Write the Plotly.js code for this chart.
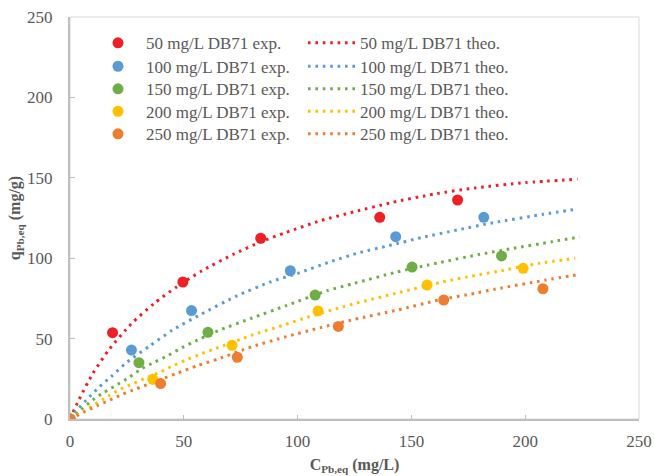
<!DOCTYPE html>
<html>
<head>
<meta charset="utf-8">
<script src="https://cdn.plot.ly/plotly-3.0.1.min.js"></script>
<style>html,body{margin:0;padding:0;background:#fff;}#chart{width:654px;height:476px;}</style>
</head>
<body>
<div id="chart"></div>
<script>
// ---------- data ----------
var seriesNames = ['50 mg/L DB71', '100 mg/L DB71', '150 mg/L DB71', '200 mg/L DB71', '250 mg/L DB71'];
var seriesColors = ['#EE2026', '#5B9BD5', '#70AD47', '#FFC000', '#ED7D31'];

// experimental points
var exp50x  = [0, 18.7, 49.6, 83.8, 136.1, 170.3];
var exp50y  = [0, 53.7, 85.2, 112.4, 125.4, 136.2];
var exp100x = [0, 27.0, 53.4, 96.8, 143.1, 181.8];
var exp100y = [0, 42.9, 67.4, 92.2, 113.4, 125.4];
var exp150x = [0, 30.3, 60.6, 107.7, 150.3, 189.6];
var exp150y = [0, 35.0, 53.9, 77.1, 94.5, 101.4];
var exp200x = [0, 36.4, 71.2, 109.0, 156.9, 199.1];
var exp200y = [0, 24.7, 45.8, 67.2, 83.3, 93.7];
var exp250x = [0, 39.8, 73.5, 117.9, 164.2, 207.8];
var exp250y = [0, 22.0, 38.4, 57.6, 74.0, 81.0];

// theoretical curves
var theo50x  = [0, 4, 10, 17, 27, 37, 47, 58, 72, 84, 95, 110, 125, 141, 160, 178, 200, 223];
var theo50y  = [0, 12.2, 28.2, 42.9, 59.3, 71.9, 82.3, 92.2, 102.6, 110.3, 116.1, 123.3, 128.9, 134.5, 139.9, 143.7, 147.0, 149.1];
var theo100x = [0, 2.4, 8.6, 13, 18, 25, 35, 45, 57, 73.5, 88, 100, 115, 127, 140, 155, 170, 186, 208, 223];
var theo100y = [0, 4.5, 13.9, 20.1, 26.3, 35.3, 45.4, 55.3, 64.7, 76.7, 85.2, 90.6, 98.1, 103.4, 107.8, 113.0, 117.5, 122.1, 127.3, 130.6];
var theo150x = [0, 5, 10, 15, 21, 26, 31, 37, 43, 48, 54, 65, 80, 95, 113, 125, 143, 162, 180, 193, 212, 224];
var theo150y = [0, 6.0, 11.8, 16.6, 21.6, 25.9, 30.9, 35.3, 39.4, 43.5, 47.7, 54.9, 62.8, 70.5, 79.8, 84.4, 91.2, 97.2, 102.4, 105.7, 110.3, 113.2];
var theo200x = [0, 6, 11, 17, 22, 28, 34, 40, 45, 51, 57, 63, 80, 93, 105, 120, 126, 145, 163, 178, 188, 206, 222];
var theo200y = [0, 4.8, 9.3, 14.3, 18.5, 22.2, 25.9, 29.4, 33.0, 36.7, 40.2, 43.3, 52.2, 58.0, 63.6, 69.8, 72.1, 78.8, 85.0, 89.3, 91.8, 96.8, 99.9];
var theo250x = [0, 6, 12, 17.5, 23, 29, 38, 47, 56, 65, 80, 95, 110, 125, 144, 162, 178, 187, 209, 224];
var theo250y = [0, 4.2, 8.3, 11.8, 15.3, 18.7, 23.6, 28.4, 33.2, 37.3, 45.0, 51.2, 56.8, 62.0, 67.8, 74.0, 78.2, 80.8, 86.4, 90.0];

var xTickVals = [0, 50, 100, 150, 200, 250];
var yTickVals = [0, 50, 100, 150, 200, 250];
var xTitle = '<b>C<sub>Pb,eq</sub> (mg/L)</b>';
var yTitle = '<b>q<sub>Pb,eq</sub> (mg/g)</b>';

// ---------- build ----------
var expX = [exp50x, exp100x, exp150x, exp200x, exp250x];
var expY = [exp50y, exp100y, exp150y, exp200y, exp250y];
var theoX = [theo50x, theo100x, theo150x, theo200x, theo250x];
var theoY = [theo50y, theo100y, theo150y, theo200y, theo250y];

var FONT = 'Liberation Serif, Times New Roman, serif';
var GRAY = '#595959';
var L = 70, R = 15, T = 17, B = 57;
var W = 654, H = 476;
var pw = W - L - R, ph = H - T - B;
function px2paperX(p) { return (p - L) / pw; }
function px2paperY(p) { return (H - B - p) / ph; }

var rowsY = [43.3, 66.7, 89.3, 111.8, 134.3];

var traces = [];
var layout = {
  width: W, height: H,
  showlegend: true,
  margin: {l: L, r: R, t: T, b: B, pad: 0},
  paper_bgcolor: '#ffffff', plot_bgcolor: '#ffffff',
  font: {family: FONT, size: 17, color: GRAY},
  xaxis: {
    range: [0, 250], tickvals: xTickVals, ticks: 'inside', ticklen: 4, tickcolor: '#bfbfbf', tickwidth: 1,
    showline: true, linecolor: '#bfbfbf', linewidth: 2, showgrid: false, zeroline: false,
    tickfont: {family: FONT, size: 17, color: GRAY}, ticklabelstandoff: 6,
    title: {text: xTitle, font: {family: FONT, size: 16, color: GRAY}, standoff: 8}
  },
  yaxis: {
    range: [0, 250], tickvals: yTickVals, ticks: 'inside', ticklen: 5, tickcolor: '#bfbfbf', tickwidth: 1,
    showline: true, linecolor: '#bfbfbf', linewidth: 2, showgrid: false, zeroline: false,
    tickfont: {family: FONT, size: 17, color: GRAY}, ticklabelstandoff: 12,
    title: {text: yTitle, font: {family: FONT, size: 16, color: GRAY}, standoff: 2}
  },
  shapes: [{
    type: 'rect', xref: 'paper', yref: 'paper', x0: 0, x1: 1, y0: 0, y1: 1,
    line: {color: '#d9d9d9', width: 1}, layer: 'below'
  }]
};

for (var i = 0; i < 5; i++) {
  var lgTheo = 'legend' + (2 * i + 2);
  traces.push({
    type: 'scatter', mode: 'lines', name: seriesNames[i] + ' theo.',
    x: theoX[i], y: theoY[i],
    line: {color: seriesColors[i], width: 3, dash: '2.6px,4.8px', shape: 'spline', smoothing: 0.6},
    legend: lgTheo, showlegend: true
  });
}
for (var j = 0; j < 5; j++) {
  var lgE = 'legend' + (j === 0 ? '' : (2 * j + 1));
  traces.push({
    type: 'scatter', mode: 'markers', name: seriesNames[j] + ' exp.',
    x: expX[j], y: expY[j],
    marker: {color: seriesColors[j], size: 11, line: {width: 0}},
    legend: lgE, showlegend: true, cliponaxis: true
  });
}
for (var k = 0; k < 5; k++) {
  var keyE = k === 0 ? 'legend' : 'legend' + (2 * k + 1);
  var keyT = 'legend' + (2 * k + 2);
  layout[keyE] = {
    visible: true,
    x: px2paperX(90), y: px2paperY(rowsY[k]), xanchor: 'left', yanchor: 'middle',
    bgcolor: 'rgba(0,0,0,0)', borderwidth: 0, itemwidth: 46,
    font: {family: FONT, size: 17, color: GRAY}
  };
  layout[keyT] = {
    visible: true,
    x: px2paperX(303), y: px2paperY(rowsY[k]), xanchor: 'left', yanchor: 'middle',
    bgcolor: 'rgba(0,0,0,0)', borderwidth: 0, itemwidth: 47,
    font: {family: FONT, size: 17, color: GRAY}
  };
}

Plotly.newPlot('chart', traces, layout, {displayModeBar: false, staticPlot: true});
</script>
</body>
</html>
